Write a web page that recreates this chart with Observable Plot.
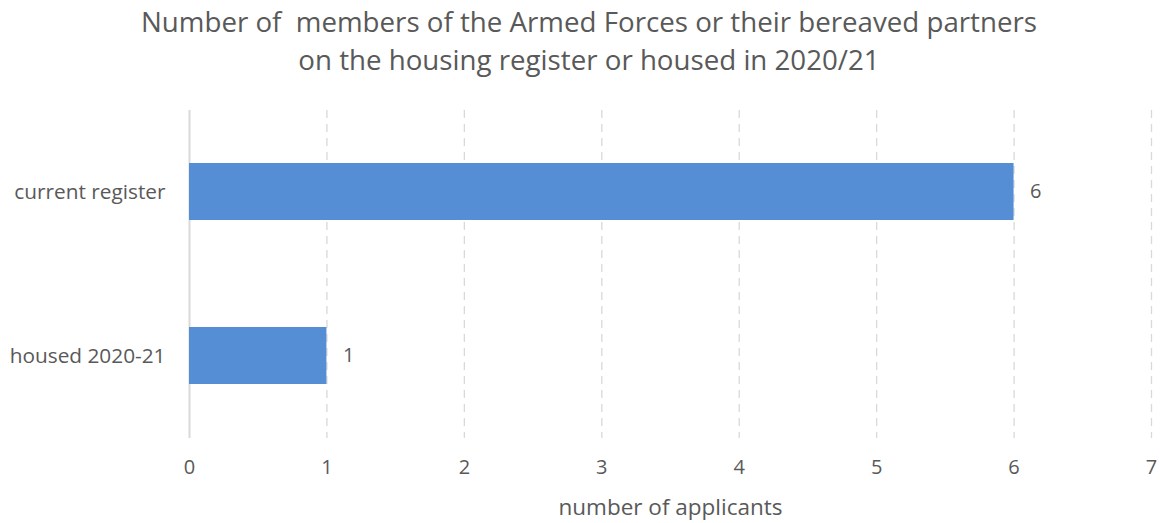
<!DOCTYPE html>
<html>
<head>
<meta charset="utf-8">
<script src="https://cdn.jsdelivr.net/npm/d3@7"></script>
<script src="https://cdn.jsdelivr.net/npm/@observablehq/plot@0.6"></script>
<style>
  html, body { margin: 0; padding: 0; background: #fff; }
  body { width: 1160px; height: 523px; overflow: hidden; font-family: "Open Sans", sans-serif; }
  #title { color: #595959; font-size: 27.7px; line-height: 38px; text-align: center; padding-top: 2px; height: 89px; box-sizing: border-box; padding-left: 18px; white-space: nowrap; }
</style>
</head>
<body>
<div id="title">Number of&nbsp; members of the Armed Forces or their bereaved partners<br>on the housing register or housed in 2020/21</div>
<div id="chart"></div>
<script>
const categories = ["current register", "housed 2020-21"];
const values = [6, 1];
const xTicks = [0, 1, 2, 3, 4, 5, 6, 7];
const xLabel = "number of applicants";

const data = categories.map((c, i) => ({category: c, value: values[i]}));
const textColor = "#595959";
const gridColor = "#d9d9d9";

const chart = Plot.plot({
  width: 1160,
  height: 434,
  marginTop: 21,
  marginBottom: 85,
  marginLeft: 189,
  marginRight: 9,
  style: {fontFamily: "'Open Sans', sans-serif", color: textColor, background: "#fff", overflow: "visible"},
  x: {domain: [0, 7], ticks: xTicks, label: null},
  y: {domain: categories, paddingInner: 0.652, paddingOuter: 0.326, label: null},
  marks: [
    Plot.ruleX(xTicks.filter(t => t > 0), {stroke: gridColor, strokeWidth: 1.3, strokeDasharray: "8,6"}),
    Plot.ruleX([0], {stroke: gridColor, strokeWidth: 2}),
    Plot.barX(data, {x: "value", y: "category", fill: "#558ed5"}),
    Plot.text(data, {x: "value", y: "category", text: d => String(d.value), textAnchor: "start", dx: 16, fontSize: 20, fill: textColor}),
    Plot.axisX({ticks: xTicks, tickFormat: d3.format("d"), tickSize: 0, tickPadding: 21, fontSize: 20, fill: textColor, label: null}),
    Plot.axisY({tickSize: 0, tickPadding: 24, fontSize: 20.8, fill: textColor, label: null}),
    Plot.text([xLabel], {frameAnchor: "bottom", dy: 76, x: 3.5, fontSize: 22.5, fill: textColor, text: d => d})
  ]
});
document.getElementById("chart").appendChild(chart);
</script>
</body>
</html>
